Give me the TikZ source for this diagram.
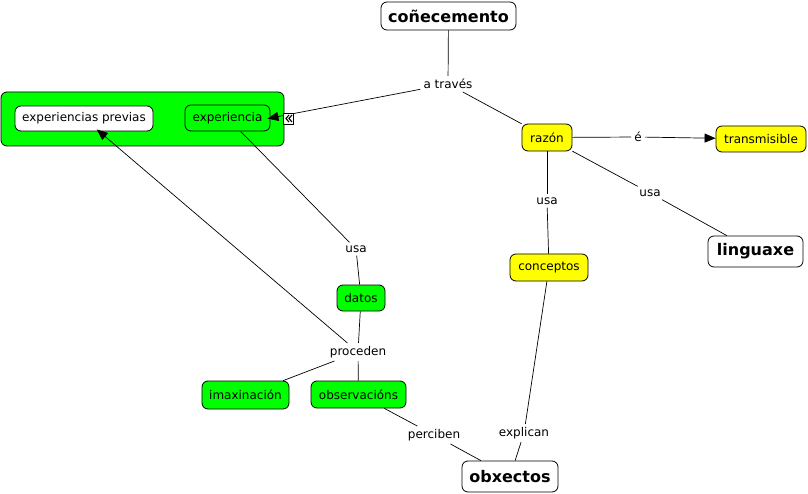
\documentclass[tikz,border=0pt]{standalone}
\usepackage{fontspec}
\setmainfont{DejaVu Sans}
\usetikzlibrary{arrows.meta}
\definecolor{cgreen}{RGB}{0,255,0}
\definecolor{cyellow}{RGB}{255,255,0}
\tikzset{
  concept/.style={draw=black, rounded corners=6pt, line width=0.8pt, inner sep=0pt,
    font=\fontsize{12}{14}\selectfont, align=center},
  gc/.style={concept, fill=cgreen},
  yc/.style={concept, fill=cyellow},
  wc/.style={concept, fill=white},
  bigc/.style={concept, fill=white, font=\fontsize{16}{19}\selectfont\bfseries},
  lbl/.style={inner sep=3pt, font=\fontsize{12}{14}\selectfont},
  conn/.style={line width=0.7pt},
  arr/.style={conn, -{Triangle[length=11pt,width=9pt]}}
}
\begin{document}
\begin{tikzpicture}[x=1pt,y=-1pt]
\useasboundingbox (0,0) rectangle (808,494);
\fill[white] (0,0) rectangle (808,494);

% nodes
\node[bigc, minimum width=135pt, minimum height=28pt] (con) at (448.5,16) {coñecemento};
\node[gc, minimum width=283pt, minimum height=54pt] (grp) at (142.5,119) {};
\node[wc, minimum width=138pt, minimum height=25pt] (prev) at (84,118.5) {experiencias previas};
\node[gc, minimum width=85pt, minimum height=26pt] (expe) at (227.5,118) {experiencia};
\node[yc, minimum width=50pt, minimum height=27pt] (raz) at (547,137.5) {razón};
\node[yc, minimum width=90pt, minimum height=26pt] (tra) at (761,139) {transmisible};
\node[bigc, minimum width=95pt, minimum height=31pt] (lin) at (755.5,251.5) {linguaxe};
\node[yc, minimum width=78pt, minimum height=27pt] (conc) at (549,267.5) {conceptos};
\node[gc, minimum width=48pt, minimum height=26pt] (dat) at (361,298) {datos};
\node[gc, minimum width=87pt, minimum height=28pt] (imax) at (245.5,395) {imaxinación};
\node[gc, minimum width=95pt, minimum height=27pt] (obs) at (358.5,394.5) {observacións};
\node[bigc, minimum width=96pt, minimum height=31pt] (obx) at (510,476.5) {obxectos};

% linking phrases
\node[lbl] (atr) at (448,84) {a través};
\node[lbl] (e) at (638,137) {é};
\node[lbl] (usa1) at (547,201) {usa};
\node[lbl] (usa2) at (650,193) {usa};
\node[lbl] (usa3) at (356,249) {usa};
\node[lbl] (proc) at (358,352) {proceden};
\node[lbl] (perc) at (434,435) {perciben};
\node[lbl] (expl) at (524,433) {explican};

% connectors
\draw[conn] (con) -- (atr);
\draw[conn] (atr) -- (raz);
\draw[arr, shorten >=-3pt] (atr) -- (expe.east);
\draw[conn] (raz) -- (e);
\draw[arr] (e) -- (tra);
\draw[conn] (raz) -- (usa1);
\draw[conn] (usa1) -- (conc);
\draw[conn] (raz) -- (usa2);
\draw[conn] (usa2) -- (lin);
\draw[conn] (expe) -- (usa3);
\draw[conn] (usa3) -- (dat);
\draw[conn] (dat) -- (proc);
\draw[arr, shorten >=-3pt] (proc) -- (prev);
\draw[conn] (proc) -- (imax);
\draw[conn] (proc) -- (obs);
\draw[conn] (obs) -- (perc);
\draw[conn] (perc) -- (obx);
\draw[conn] (conc) -- (expl);
\draw[conn] (expl) -- (obx);

% expand icon
\node[draw=black, fill=white, line width=0.6pt, minimum width=10pt, minimum height=11pt, inner sep=0pt] (icon) at (288.5,118.5) {};
\draw[line width=1.1pt] (289,115) -- (286,118.5) -- (289,122);
\draw[line width=1.1pt] (292,115) -- (289,118.5) -- (292,122);
\end{tikzpicture}
\end{document}
